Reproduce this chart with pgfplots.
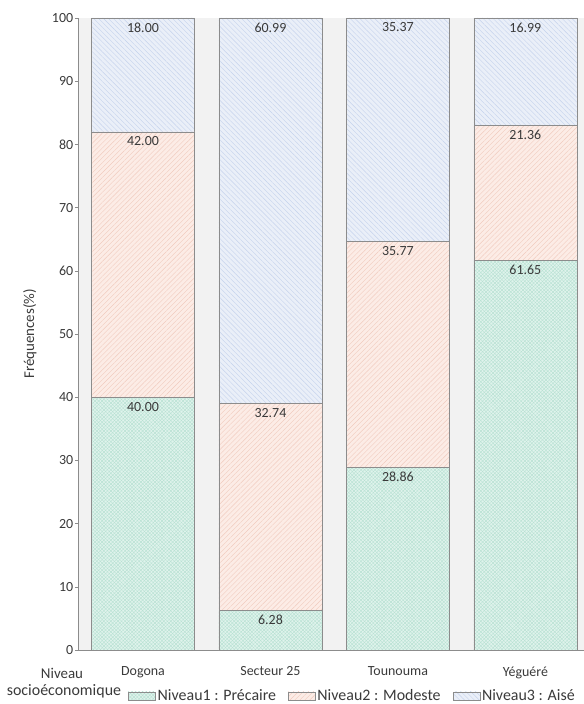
\documentclass[border=0pt]{standalone}
\usepackage{pgfplots}
\pgfplotsset{compat=1.18}
\usepackage{fontspec}
\setmainfont{Carlito}
\usetikzlibrary{patterns.meta,calc}
\definecolor{gA}{HTML}{DFF3EC}\definecolor{gAp}{HTML}{B3DFD0}
\definecolor{gB}{HTML}{FCECE6}\definecolor{gBp}{HTML}{F1CBBE}
\definecolor{gC}{HTML}{EAEFF8}\definecolor{gCp}{HTML}{C4D2EC}
\definecolor{bord}{HTML}{8C8C8C}
\definecolor{txt}{HTML}{3A3A3A}
\pgfplotsset{
  lvA/.style={fill=gA, draw=bord, postaction={pattern={Lines[angle=45,distance=2.5pt,line width=0.35pt]}, pattern color=gAp},
    postaction={pattern={Lines[angle=-45,distance=2.5pt,line width=0.35pt]}, pattern color=gAp}},
  lvB/.style={fill=gB, draw=bord, postaction={pattern={Lines[angle=45,distance=3.5pt,line width=0.4pt]}, pattern color=gBp}},
  lvC/.style={fill=gC, draw=bord, postaction={pattern={Lines[angle=-45,distance=3.5pt,line width=0.4pt]}, pattern color=gCp}},
}
\begin{document}
\fontsize{14}{16}\selectfont
\begin{tikzpicture}
\begin{axis}[
  scale only axis, width=506bp, height=632bp,
  ybar, bar width=0.81, bar shift=0pt,
  xmin=-0.51, xmax=3.46, ymin=0, ymax=100,
  xtick={0,1,2,3}, xticklabels={Dogona,Secteur 25,Tounouma,Yéguéré},
  xticklabel style={yshift=-9bp, text=txt},
  ytick={0,10,...,100},
  yticklabel style={text=txt, xshift=3bp},
  /pgf/number format/assume math mode=true,
  axis background/.style={fill=black!5},
  axis x line*=bottom, axis y line*=left,
  axis line style={bord},
  x tick style={draw=none},
  y tick style={bord}, tick align=outside, major tick length=3bp,
  ylabel={Fréquences(\%)},
  ylabel style={text=txt, at={(axis description cs:-0.095,0.5)}, anchor=center, font=\fontsize{15}{17}\selectfont},
  clip=false,
  point meta=explicit symbolic,
  nodes near coords,
  every node near coord/.append style={anchor=north, text=txt, yshift=0bp},
  legend columns=3,
  legend style={at={(0.099,-0.0585)}, anchor=north west, draw=none, fill=none,
    /tikz/every even column/.append style={column sep=10bp},
    text=txt, inner sep=0pt, font=\fontsize{16}{18}\selectfont},
  legend image code/.code={\draw[#1] (0bp,-4bp) rectangle (27bp,4bp);},
]
% Niveau3 : Aisé (segment top = cumulative total)
\addplot[lvC, forget plot] coordinates {(0,100) [18.00] (1,100) [60.99] (2,100) [35.37] (3,100) [16.99]};
% Niveau2 : Modeste (top = Niveau1 + Niveau2)
\addplot[lvB, forget plot] coordinates {(0,82.00) [42.00] (1,39.02) [32.74] (2,64.63) [35.77] (3,83.01) [21.36]};
% Niveau1 : Précaire
\addplot[lvA, forget plot] coordinates {(0,40.00) [40.00] (1,6.28) [6.28] (2,28.86) [28.86] (3,61.65) [61.65]};
\addlegendimage{lvA}\addlegendentry{Niveau1 : Précaire}
\addlegendimage{lvB}\addlegendentry{Niveau2 : Modeste}
\addlegendimage{lvC}\addlegendentry{Niveau3 : Aisé}
\node[text=txt, font=\fontsize{15}{17}\selectfont] at ($(current axis.south west)+(-16bp,-23bp)$) {Niveau};
\node[text=txt, anchor=west, font=\fontsize{16}{18}\selectfont] at ($(current axis.south west)+(-76bp,-41bp)$) {socioéconomique};
\end{axis}
\pgfresetboundingbox
\path[use as bounding box] ($(current axis.south west)+(-78bp,-54bp)$) rectangle ($(current axis.north east)+(0bp,18bp)$);
\end{tikzpicture}
\end{document}
